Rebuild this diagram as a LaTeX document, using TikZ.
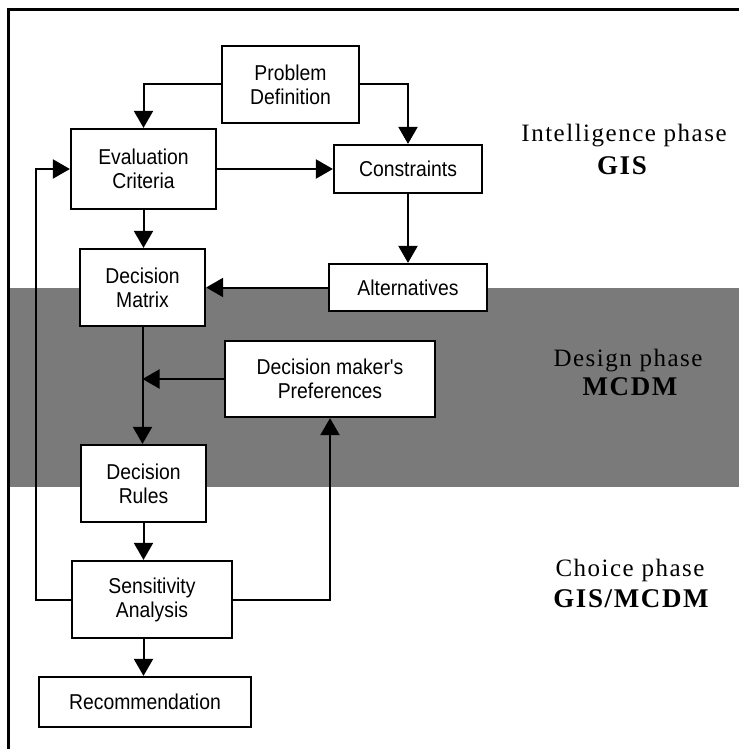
\documentclass[tikz,border=0pt]{standalone}
\usepackage{fontspec}
\setmainfont{Liberation Serif}
\newfontfamily\boxfont{Liberation Sans}[FakeStretch=0.9]
\newfontfamily\phasefont{Liberation Serif}[LetterSpace=6]
\usetikzlibrary{arrows.meta}
\definecolor{bandgray}{gray}{0.48}
\tikzset{
  box/.style={draw, line width=2.2pt, fill=white, align=center, inner sep=0pt,
    font=\boxfont\fontsize{21.5}{24}\selectfont},
  conn/.style={line width=2pt, -{Triangle[length=17pt,width=19pt]}},
  phase/.style={anchor=base, inner sep=0pt, font=\phasefont\fontsize{25}{30}\selectfont},
  phaseb/.style={anchor=base, inner sep=0pt, font=\phasefont\bfseries\fontsize{27}{30}\selectfont},
}
\begin{document}
\begin{tikzpicture}[x=1pt, y=-1pt]
\useasboundingbox (0,0) rectangle (739,749);
% band
\fill[bandgray] (9,288) rectangle (739,487);
% frame
\draw[line width=2.2pt] (739,9.5) -- (8.5,9.5) -- (8.5,749);
% boxes
\node[box, minimum width=137pt, minimum height=77pt] (pd) at (290.5,84.5) {Problem\\Definition};
\node[box, minimum width=145pt, minimum height=80pt] (ec) at (143.5,169) {Evaluation\\Criteria};
\node[box, minimum width=148pt, minimum height=48pt] (co) at (408,169) {Constraints};
\node[box, minimum width=125pt, minimum height=77pt] (dm) at (142.5,287.5) {Decision\\Matrix};
\node[box, minimum width=158pt, minimum height=47pt] (al) at (408,287.5) {Alternatives};
\node[box, minimum width=210pt, minimum height=76pt] (dp) at (330,379) {Decision maker's\\Preferences};
\node[box, minimum width=125pt, minimum height=77pt] (dr) at (143.5,483.5) {Decision\\Rules};
\node[box, minimum width=160pt, minimum height=77pt] (sa) at (152,599.5) {Sensitivity\\Analysis};
\node[box, minimum width=212pt, minimum height=50pt] (rc) at (145,702) {Recommendation};
\coordinate (lp) at (36,600);
% connectors
\draw[conn] (pd.west) -| (ec.north);
\draw[conn] (pd.east) -| (co.north);
\draw[conn] (ec.east) -- (co.west);
\draw[conn] (ec.south) -- (ec.south |- dm.north);
\draw[conn] (co.south) -- (co.south |- al.north);
\draw[conn] (al.west) -- (dm.east);
\draw[conn] (dm.south) -- (dm.south |- dr.north);
\draw[conn] (dp.west) -- (dp.west -| dm.south);
\draw[conn] (dr.south) -- (dr.south |- sa.north);
\draw[conn] (sa.west) -- (sa.west -| lp) -- (lp |- ec.west) -- (ec.west);
\draw[conn] (sa.east) -| (dp.south);
\draw[conn] (dr.south |- sa.south) -- (dr.south |- rc.north);
% phase labels
\node[phase] (ip) at (624,142) {Intelligence phase};
\node[phaseb] (ig) at (622,174) {GIS};
\node[phase] (dph) at (628,366) {Design phase};
\node[phaseb] (dg) at (630,395) {MCDM};
\node[phase] (cph) at (630,576) {Choice phase};
\node[phaseb] (cg) at (631,607) {GIS/MCDM};
\end{tikzpicture}
\end{document}
